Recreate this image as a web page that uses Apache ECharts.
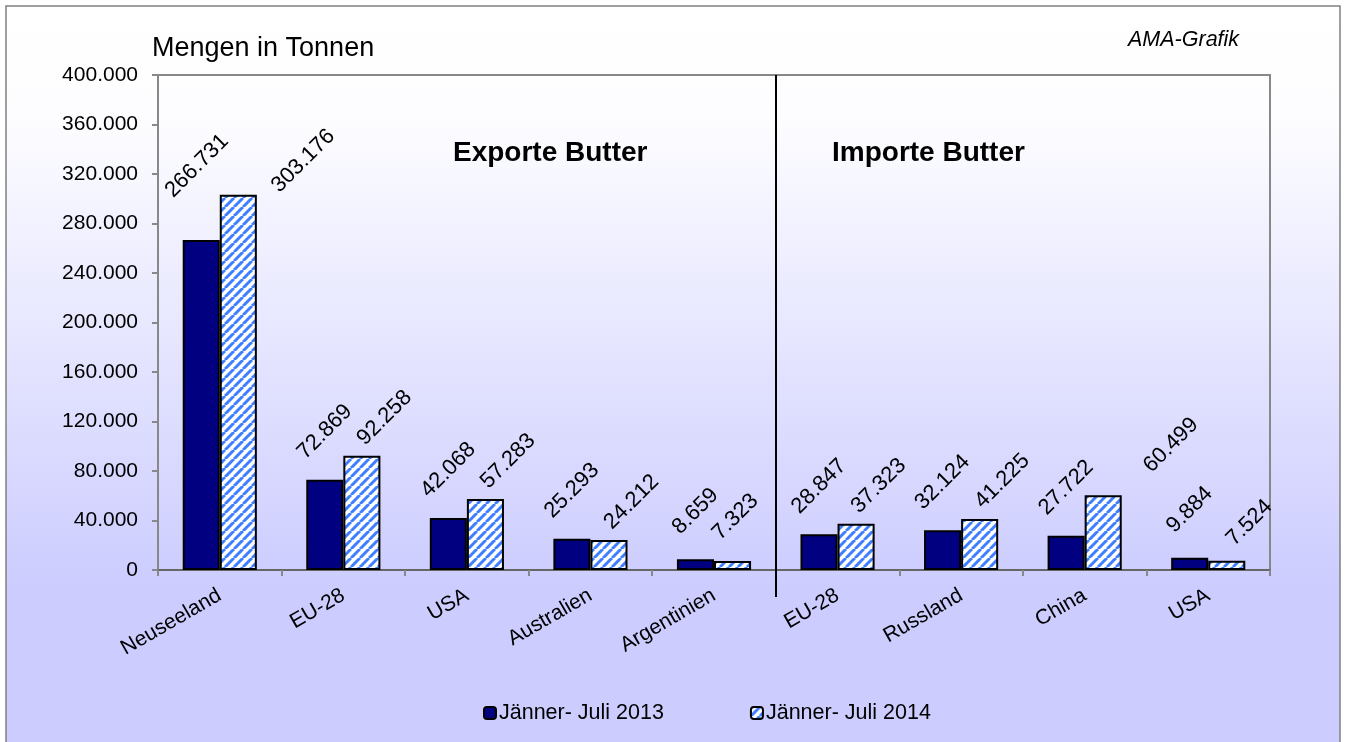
<!DOCTYPE html>
<html>
<head>
<meta charset="utf-8">
<script src="https://cdn.jsdelivr.net/npm/echarts@6/dist/echarts.min.js"></script>
<style>
  html, body { margin: 0; padding: 0; background: #fff; }
  #chart { width: 1345px; height: 742px; }
</style>
</head>
<body>
<div id="chart"></div>
<script>
// Butter exports / imports, Jänner-Juli 2013 vs 2014 (Tonnen)
const categories = ['Neuseeland', 'EU-28', 'USA', 'Australien', 'Argentinien', 'EU-28', 'Russland', 'China', 'USA'];
const values2013 = [266731, 72869, 42068, 25293, 8659, 28847, 32124, 27722, 9884];
const values2014 = [303176, 92258, 57283, 24212, 7323, 37323, 41225, 60499, 7524];
const seriesNames = ['Jänner- Juli 2013', 'Jänner- Juli 2014'];
const yMin = 0;
const yMax = 400000;
const yStep = 40000;
const exportCount = 5; // first 5 categories are exports

function fmt (v) {
  return String(v).replace(/\B(?=(\d{3})+(?!\d))/g, '.');
}

function hatch () {
  const c = document.createElement('canvas');
  c.width = 9; c.height = 9;
  const ctx = c.getContext('2d');
  ctx.fillStyle = '#ffffff';
  ctx.fillRect(0, 0, 9, 9);
  ctx.strokeStyle = '#3f7fff';
  ctx.lineWidth = 3;
  for (let k = -1; k <= 1; k++) {
    ctx.beginPath();
    ctx.moveTo(k * 9, 9);
    ctx.lineTo(k * 9 + 9, 0);
    ctx.stroke();
  }
  return c;
}

// rotated value labels; offset is in the rotated text frame
function labelStyle (distance, shift) {
  return {
    show: true,
    position: 'top',
    rotate: 45,
    align: 'center',
    verticalAlign: 'middle',
    distance: distance,
    offset: [shift, shift],
    fontFamily: 'Arial, "Liberation Sans"',
    fontSize: 22,
    color: '#000',
    formatter: p => fmt(p.value)
  };
}

// a few labels sit elsewhere in the original (hand placed in Excel)
function nudge (values, moves) {
  return values.map((v, i) => {
    const m = moves[i];
    return m ? { value: v, label: { distance: m[0], offset: [m[1], m[1]] } } : v;
  });
}
const data2013 = nudge(values2013, { 0: [74, -3] });
const data2014 = nudge(values2014, { 0: [34, 46], 4: [44, 2], 7: [50, 48] });

const chart = echarts.init(document.getElementById('chart'));

const option = {
  animation: false,
  textStyle: { fontFamily: 'Arial, "Liberation Sans"' },
  title: [
    { text: 'Mengen in Tonnen', left: 152, top: 35, padding: 0,
      textStyle: { fontSize: 27, fontWeight: 'normal', color: '#000' } },
    { text: 'AMA-Grafik', left: 1128, top: 29, padding: 0,
      textStyle: { fontSize: 21.5, fontStyle: 'italic', fontWeight: 'normal', color: '#000' } },
    { text: 'Exporte Butter', left: 453, top: 139, padding: 0,
      textStyle: { fontSize: 28, fontWeight: 'bold', color: '#000' } },
    { text: 'Importe Butter', left: 832, top: 139, padding: 0,
      textStyle: { fontSize: 28, fontWeight: 'bold', color: '#000' } }
  ],
  legend: {
    left: 483,
    top: 702,
    padding: 0,
    itemWidth: 12,
    itemHeight: 12,
    itemGap: 86,
    textStyle: { fontSize: 21.5, color: '#000', padding: [0, 0, 0, -2] },
    data: seriesNames
  },
  grid: {
    left: 158,
    right: 75,
    top: 75,
    bottom: 172,
    show: true,
    borderColor: '#888',
    borderWidth: 2,
    backgroundColor: 'transparent'
  },
  xAxis: [{
    type: 'category',
    data: categories,
    axisLine: { lineStyle: { color: '#666', width: 2 } },
    axisTick: { show: true, length: 6, lineStyle: { color: '#888', width: 2 } },
    axisLabel: { rotate: 30, margin: 24, fontSize: 21, color: '#000', interval: 0 },
    splitLine: { show: false }
  }],
  yAxis: [{
    type: 'value',
    min: yMin,
    max: yMax,
    interval: yStep,
    axisLine: { show: true, lineStyle: { color: '#888', width: 2 } },
    axisTick: { show: true, length: 6, lineStyle: { color: '#888', width: 2 } },
    axisLabel: { fontSize: 21, color: '#000', margin: 20, formatter: v => fmt(v) },
    splitLine: { show: false }
  }],
  series: [{
    name: seriesNames[0],
    type: 'bar',
    barGap: '0%',
    barCategoryGap: '40%',
    itemStyle: { color: '#000080', borderColor: '#000', borderWidth: 2 },
    label: labelStyle(48, 0),
    data: data2013
  }, {
    name: seriesNames[1],
    type: 'bar',
    barGap: '0%',
    barCategoryGap: '40%',
    itemStyle: { color: { image: hatch(), repeat: 'repeat' }, borderColor: '#000', borderWidth: 2 },
    label: labelStyle(38, 16),
    data: data2014
  }],
  graphic: [{
    id: 'frame',
    type: 'rect',
    z: -10,
    silent: true,
    shape: { x: 6, y: 6, width: 1334, height: 745 },
    style: {
      fill: new echarts.graphic.LinearGradient(0, 0, 0, 1, [
        { offset: 0, color: '#ffffff' },
        { offset: 0.15, color: '#fdfdff' },
        { offset: 0.78, color: '#ccccff' },
        { offset: 1, color: '#ccccff' }
      ]),
      stroke: '#808080',
      lineWidth: 1.5
    }
  }]
};

chart.setOption(option);

// separator between exports and imports, from the plot top to below the axis
const xa = chart.convertToPixel({ xAxisIndex: 0 }, exportCount - 1);
const xb = chart.convertToPixel({ xAxisIndex: 0 }, exportCount);
const yTop = chart.convertToPixel({ yAxisIndex: 0 }, yMax);
const yZero = chart.convertToPixel({ yAxisIndex: 0 }, yMin);
const sepX = Math.round((xa + xb) / 2);
chart.setOption({
  graphic: [{
    id: 'sep',
    type: 'line',
    z: 100,
    silent: true,
    shape: { x1: sepX, y1: yTop, x2: sepX, y2: yZero + 27 },
    style: { stroke: '#000', lineWidth: 2 }
  }]
});
</script>
</body>
</html>
